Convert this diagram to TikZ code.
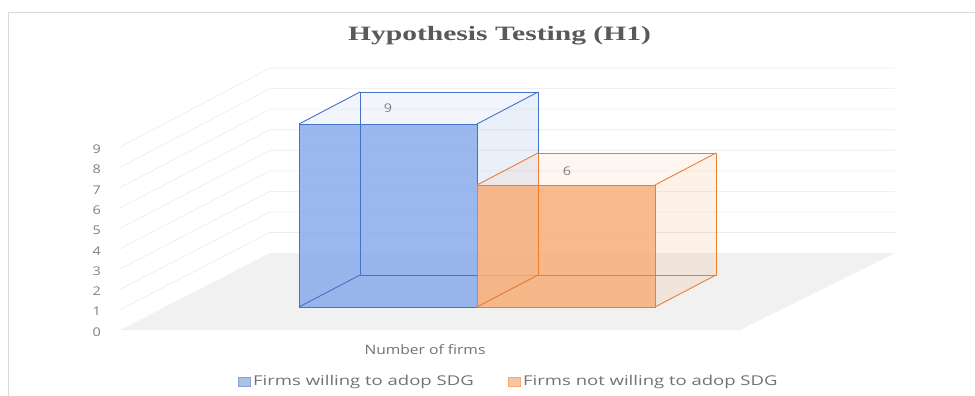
\documentclass[tikz,border=0pt]{standalone}
\usepackage{fontspec}
\usepackage{graphicx}
\setmainfont{Liberation Serif}
\newfontfamily\chartsans{Open Sans}

\definecolor{barblue}{HTML}{4472C4}
\definecolor{bluefront}{HTML}{88ABEA}
\definecolor{barorange}{HTML}{ED7D31}
\definecolor{orangefront}{HTML}{F8AE77}
\definecolor{labelgray}{HTML}{7F7F7F}
\definecolor{titlegray}{HTML}{595959}
\definecolor{floorgray}{HTML}{F1F1F1}
\definecolor{gridgray}{HTML}{EAEAEA}
\definecolor{framegray}{HTML}{D9D9D9}

% horizontally widened text
\newcommand\widetext[2]{\scalebox{#1}[1]{#2}}

% one 3-D column: #1 left x, #2 right x, #3 top y, #4 edge colour, #5 front colour
% floor of the column at y=307, depth offset (61,-32)
\newcommand\columnbox[5]{%
  \fill[#4, fill opacity=0.07] (#1,#3) -- (#2,#3) -- (#2+61,#3-32) -- (#1+61,#3-32) -- cycle;
  \fill[#4, fill opacity=0.11] (#2,#3) -- (#2+61,#3-32) -- (#2+61,275) -- (#2,307) -- cycle;
  \fill[#5, fill opacity=0.85] (#1,#3) rectangle (#2,307);
  \draw[baredge=#4] (#1+61,#3-32) rectangle (#2+61,275);
  \draw[baredge=#4] (#1,#3) rectangle (#2,307);
  \draw[baredge=#4] (#1,#3) -- (#1+61,#3-32) (#2,#3) -- (#2+61,#3-32)
                    (#1,307) -- (#1+61,275) (#2,307) -- (#2+61,275);
}

\begin{document}
\begin{tikzpicture}[x=1pt,y=-1pt,
  baredge/.style={draw=#1, line width=0.9pt, line join=miter},
  gridline/.style={gridgray, line width=0.6pt},
  axislabel/.style={font=\chartsans\fontsize{12}{12}\selectfont, text=labelgray, inner sep=0pt},
  valuelabel/.style={font=\chartsans\fontsize{12}{12}\selectfont, text=labelgray, inner sep=0pt},
  captiontext/.style={font=\chartsans\fontsize{13}{13}\selectfont, text=titlegray!85, inner sep=0pt},
  legendtext/.style={font=\chartsans\fontsize{13.5}{13.5}\selectfont, text=titlegray!85, inner sep=0pt, anchor=west},
  legendkey/.style={inner sep=0pt, minimum width=12pt, minimum height=9pt, draw=#1!65, fill=#1!45},
]
\useasboundingbox (0,0) rectangle (975,396);

% chart frame (top and left edges in view)
\draw[framegray, line width=0.8pt] (8,400) -- (8,12.5) -- (980,12.5);

% floor
\fill[floorgray] (120,330) -- (740,330) -- (895,253) -- (270,253) -- cycle;

% side wall and back wall gridlines
\foreach \v in {1,...,9} {
  \draw[gridline] (120,{330-20.33*\v}) -- (270,{253-20.55*\v}) -- (895,{253-20.55*\v});
}

% value axis
\foreach \v in {0,...,9} {
  \node[axislabel, anchor=east] (tick\v) at (101,{332-20.3*\v}) {\widetext{1.2}{\v}};
}

% columns
\columnbox{299}{477}{124}{barblue}{bluefront}
\columnbox{477}{655}{185}{barorange}{orangefront}

\node[valuelabel] (val9) at (388,108) {\widetext{1.2}{9}};
\node[valuelabel] (val6) at (567,171) {\widetext{1.2}{6}};

% title
\node[font=\fontsize{20.4}{20.4}\selectfont\bfseries, text=titlegray, inner sep=0pt]
  (title) at (499.5,36) {\widetext{1.45}{Hypothesis Testing (H1)}};

% category axis title
\node[captiontext] (cat) at (425,350) {\widetext{1.2}{Number of firms}};

% legend
\node[legendkey=barblue] (keyblue) at (244,382) {};
\node[legendtext] (legblue) at (253,382) {\widetext{1.37}{Firms willing to adop SDG}};
\node[legendkey=barorange] (keyorange) at (514,382) {};
\node[legendtext] (legorange) at (523,382) {\widetext{1.37}{Firms not willing to adop SDG}};
\end{tikzpicture}
\end{document}
